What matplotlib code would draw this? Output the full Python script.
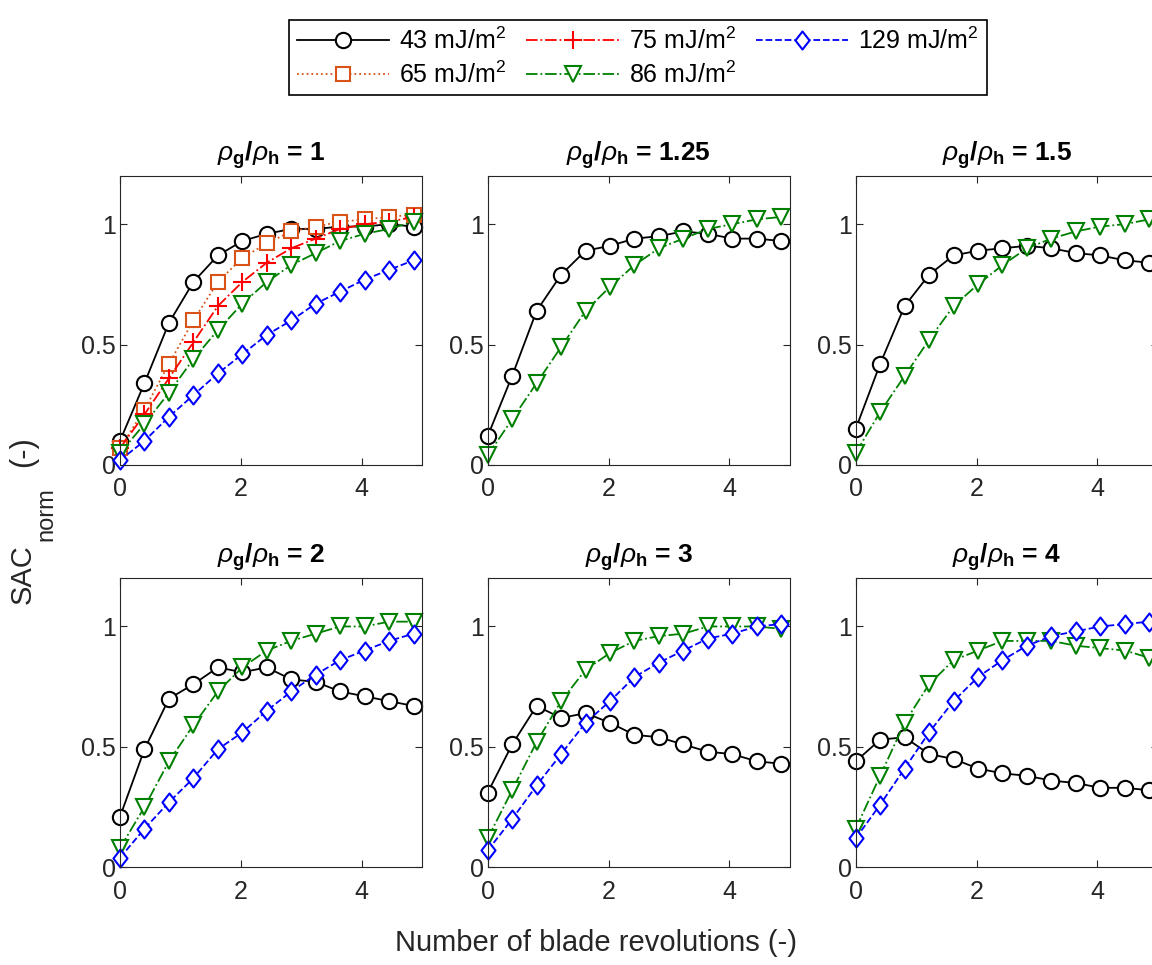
import numpy as np
import matplotlib
matplotlib.use('Agg')
import matplotlib.pyplot as plt
from matplotlib.path import Path

plt.rcParams['font.family'] = ['Liberation Sans', 'DejaVu Sans']
plt.rcParams['mathtext.fontset'] = 'custom'
plt.rcParams['mathtext.rm'] = 'Liberation Sans'
plt.rcParams['mathtext.it'] = 'Liberation Sans:italic'
plt.rcParams['mathtext.bf'] = 'Liberation Sans:bold'

# blade revolutions (same sampling in every panel)
revs = [0, 0.405, 0.81, 1.215, 1.62, 2.025, 2.43, 2.835, 3.24, 3.645, 4.05, 4.455, 4.86]

ratios = ['1', '1.25', '1.5', '2', '3', '4']
energies = ['43', '65', '75', '86', '129']

# SAC_norm per panel, per surface energy
sac = {
    '1': {
        '43': [0.10, 0.34, 0.59, 0.76, 0.87, 0.93, 0.96, 0.98, 0.98, 0.99, 0.99, 1.00, 0.99],
        '65': [0.07, 0.23, 0.42, 0.60, 0.76, 0.86, 0.92, 0.97, 0.99, 1.01, 1.02, 1.03, 1.04],
        '75': [0.07, 0.21, 0.36, 0.51, 0.66, 0.76, 0.84, 0.90, 0.94, 0.98, 1.00, 1.01, 1.03],
        '86': [0.05, 0.17, 0.30, 0.44, 0.56, 0.67, 0.76, 0.83, 0.88, 0.93, 0.96, 0.98, 1.01],
        '129': [0.02, 0.10, 0.20, 0.29, 0.38, 0.46, 0.54, 0.60, 0.67, 0.72, 0.77, 0.81, 0.85],
    },
    '1.25': {
        '43': [0.12, 0.37, 0.64, 0.79, 0.89, 0.91, 0.94, 0.95, 0.97, 0.96, 0.94, 0.94, 0.93],
        '86': [0.04, 0.19, 0.34, 0.49, 0.64, 0.74, 0.83, 0.90, 0.94, 0.98, 1.00, 1.02, 1.03],
    },
    '1.5': {
        '43': [0.15, 0.42, 0.66, 0.79, 0.87, 0.89, 0.90, 0.91, 0.90, 0.88, 0.87, 0.85, 0.84],
        '86': [0.05, 0.22, 0.37, 0.52, 0.66, 0.75, 0.83, 0.90, 0.94, 0.97, 0.99, 1.00, 1.02],
    },
    '2': {
        '43': [0.21, 0.49, 0.70, 0.76, 0.83, 0.81, 0.83, 0.78, 0.77, 0.73, 0.71, 0.69, 0.67],
        '86': [0.08, 0.25, 0.44, 0.59, 0.73, 0.83, 0.90, 0.94, 0.97, 1.00, 1.00, 1.02, 1.02],
        '129': [0.04, 0.16, 0.27, 0.37, 0.49, 0.56, 0.65, 0.73, 0.80, 0.86, 0.90, 0.94, 0.97],
    },
    '3': {
        '43': [0.31, 0.51, 0.67, 0.62, 0.64, 0.60, 0.55, 0.54, 0.51, 0.48, 0.47, 0.44, 0.43],
        '86': [0.12, 0.32, 0.52, 0.69, 0.82, 0.89, 0.94, 0.96, 0.97, 1.00, 1.00, 1.00, 0.99],
        '129': [0.07, 0.20, 0.34, 0.47, 0.60, 0.69, 0.79, 0.85, 0.90, 0.95, 0.97, 1.00, 1.01],
    },
    '4': {
        '43': [0.44, 0.53, 0.54, 0.47, 0.45, 0.41, 0.39, 0.38, 0.36, 0.35, 0.33, 0.33, 0.32],
        '86': [0.16, 0.38, 0.60, 0.76, 0.86, 0.90, 0.94, 0.94, 0.94, 0.92, 0.91, 0.90, 0.87],
        '129': [0.12, 0.26, 0.41, 0.56, 0.69, 0.79, 0.86, 0.92, 0.96, 0.98, 1.00, 1.01, 1.02],
    },
}

# MATLAB-like diamond (taller than wide)
diamond = Path([(0, 1), (0.78, 0), (0, -1), (-0.78, 0), (0, 1)],
               [Path.MOVETO, Path.LINETO, Path.LINETO, Path.LINETO, Path.CLOSEPOLY])

styles = {
    '43': dict(color='black', ls='-', marker='o', ms=11),
    '65': dict(color=(0.85, 0.325, 0.098), ls=':', marker='s', ms=10),
    '75': dict(color='red', ls='-.', marker='+', ms=13),
    '86': dict(color=(0, 0.5, 0), ls='-.', marker='v', ms=12),
    '129': dict(color='blue', ls='--', marker=diamond, ms=13),
}

fig = plt.figure(figsize=(11.52, 9.65), dpi=100)
W, H = 1152, 965
lefts = [120, 487.7, 855.7]
bottoms = [465, 867.3]
aw, ah = 302, 289
grey = (0.15, 0.15, 0.15)

axes = []
for i, r in enumerate(ratios):
    row, col = divmod(i, 3)
    ax = fig.add_axes([lefts[col] / W, 1 - bottoms[row] / H, aw / W, ah / H])
    axes.append(ax)
    for e in energies:
        if e not in sac[r]:
            continue
        st = styles[e]
        ax.plot(revs, sac[r][e], linestyle=st['ls'], color=st['color'], marker=st['marker'],
                markersize=st['ms'], markerfacecolor='white' if st['marker'] != '+' else st['color'],
                markeredgecolor=st['color'], markeredgewidth=1.5, lw=1.3,
                label=e + r' mJ/m$^2$', clip_on=False)
    ax.set_xlim(0, 5)
    ax.set_ylim(0, 1.2)
    ax.set_xticks([0, 2, 4])
    ax.set_yticks([0, 0.5, 1])
    ax.set_yticklabels(['0', '0.5', '1'])
    ax.tick_params(direction='in', length=5, width=0.8, top=True, right=True,
                   labelsize=18, colors=grey)
    ax.tick_params(axis='x', pad=9)
    ax.tick_params(axis='y', pad=3)
    for s in ax.spines.values():
        s.set_color(grey)
        s.set_linewidth(0.8)
    ax.set_title(r'$\rho_\mathbf{g}$/$\rho_\mathbf{h}$ = ' + r, fontsize=19, fontweight='bold', pad=11)

# legend built from the first panel (it holds all five series)
h, l = axes[0].get_legend_handles_labels()
leg = fig.legend(h, l, loc='upper center', bbox_to_anchor=(638 / W, 1 - 20 / H), ncol=3,
                 fontsize=18, handlelength=3.7, columnspacing=0.8, handletextpad=0.4,
                 labelspacing=0.3, borderpad=0.3, borderaxespad=0, fancybox=False,
                 edgecolor='black', framealpha=1)
leg.get_frame().set_linewidth(1.2)

# y label: pieces so that the subscript keeps MATLAB's large size
fig.text(23 / W, 1 - 574 / H, 'SAC', rotation=90, fontsize=21, ha='center', va='center', color=grey)
fig.text(46 / W, 1 - 514 / H, 'norm', rotation=90, fontsize=17, ha='center', va='center', color=grey)
fig.text(23 / W, 1 - 452 / H, '(-)', rotation=90, fontsize=22, ha='center', va='center', color=grey)
fig.text(596 / W, 1 - 943 / H, 'Number of blade revolutions (-)', fontsize=21,
         ha='center', va='center', color=grey)

fig.savefig('out.png', dpi=100)
